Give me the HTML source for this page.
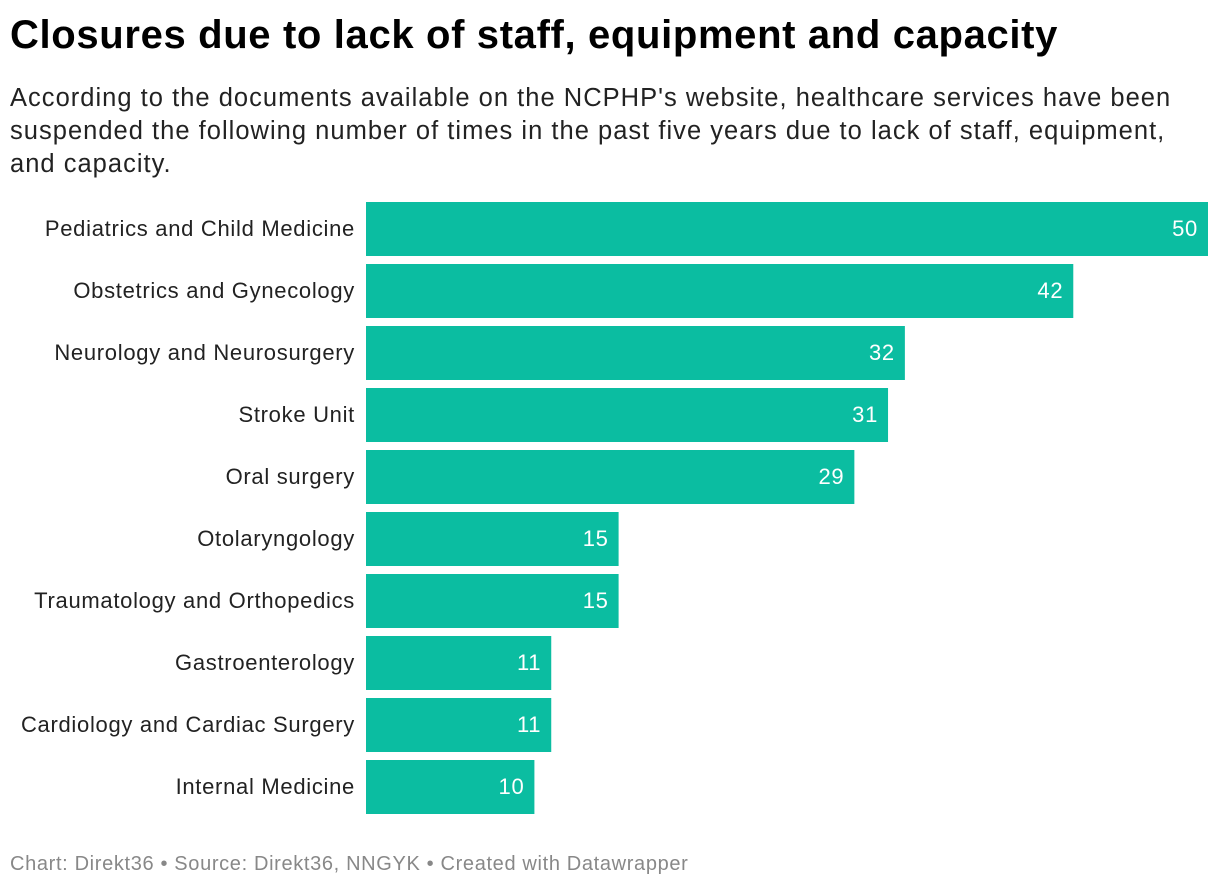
<!DOCTYPE html>
<html><head><meta charset="utf-8"><style>
body{margin:0;width:1220px;height:890px;background:#fff;font-family:"Liberation Sans",Arial,sans-serif;position:relative;overflow:hidden}
h1{position:absolute;left:10px;top:13px;margin:0;font-size:40px;font-weight:bold;color:#000;letter-spacing:0.65px;white-space:nowrap}
.sub{position:absolute;left:10px;top:82px;width:1210px;font-size:25.5px;line-height:33px;color:#222;letter-spacing:1.02px;white-space:nowrap}
.foot{position:absolute;left:10px;top:853px;font-size:20px;color:#888;letter-spacing:0.65px;white-space:nowrap}
svg{position:absolute;left:0;top:0}
</style></head><body>
<h1>Closures due to lack of staff, equipment and capacity</h1>
<div class="sub">According to the documents available on the NCPHP's website, healthcare services have been<br>suspended the following number of times in the past five years due to lack of staff, equipment,<br>and capacity.</div>
<svg id="chart" width="1220" height="890"></svg>
<div class="foot">Chart: Direkt36 • Source: Direkt36, NNGYK • Created with Datawrapper</div>
<script>
const categories=["Pediatrics and Child Medicine","Obstetrics and Gynecology","Neurology and Neurosurgery","Stroke Unit ","Oral surgery","Otolaryngology","Traumatology and Orthopedics","Gastroenterology","Cardiology and Cardiac Surgery","Internal Medicine"];
const values=[50,42,32,31,29,15,15,11,11,10];
const maxValue=50;
const svg=document.getElementById('chart');
const NS='http://www.w3.org/2000/svg';
const x0=366,x1=1208,top0=202,pitch=62,bh=54;
function xs(v){return x0+(x1-x0)*v/maxValue;}
function ys(i){return top0+i*pitch;}
categories.forEach((c,i)=>{
  const r=document.createElementNS(NS,'rect');
  r.setAttribute('x',x0);r.setAttribute('y',ys(i));
  r.setAttribute('width',xs(values[i])-x0);r.setAttribute('height',bh);
  r.setAttribute('fill','#0bbda1');
  
  
  svg.appendChild(r);
  const l=document.createElementNS(NS,'text');
  l.setAttribute('x',355);l.setAttribute('y',ys(i)+bh/2+7);
  l.setAttribute('text-anchor','end');l.setAttribute('font-size','22');l.setAttribute('fill','#222');
  l.setAttribute('letter-spacing','0.7');
  l.setAttribute('font-family','Liberation Sans, Arial, sans-serif');
  l.textContent=c;
  
  
  svg.appendChild(l);
  const v=document.createElementNS(NS,'text');
  v.setAttribute('x',xs(values[i])-10);v.setAttribute('y',ys(i)+bh/2+7);
  v.setAttribute('text-anchor','end');v.setAttribute('font-size','22');v.setAttribute('fill','#fff');
  v.setAttribute('letter-spacing','0.7');
  v.setAttribute('font-family','Liberation Sans, Arial, sans-serif');
  v.textContent=values[i];
  
  
  svg.appendChild(v);
});
</script>
</body></html>
